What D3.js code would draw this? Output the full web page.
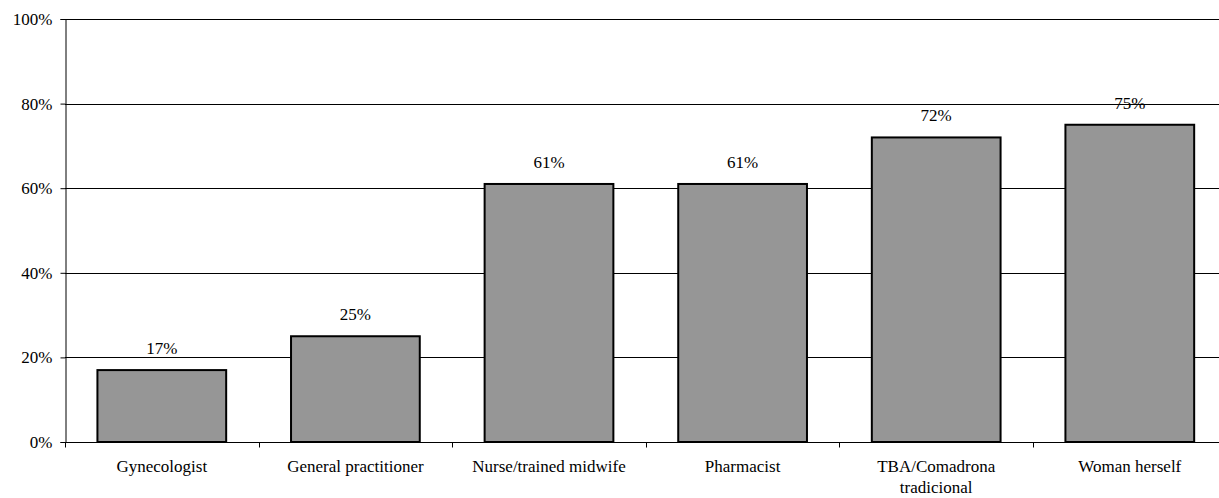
<!DOCTYPE html>
<html>
<head>
<meta charset="utf-8">
<script src="https://cdn.jsdelivr.net/npm/d3@7"></script>
<style>
  html, body { margin: 0; padding: 0; background: #fff; }
  svg { display: block; }
</style>
</head>
<body>
<svg id="chart" width="1219" height="498"></svg>
<script>
// Who can provide the service (share of respondents)
const categories = [
  ["Gynecologist"],
  ["General practitioner"],
  ["Nurse/trained midwife"],
  ["Pharmacist"],
  ["TBA/Comadrona", "tradicional"],
  ["Woman herself"]
];
const values = [17, 25, 61, 61, 72, 75];
const yTicks = [0, 20, 40, 60, 80, 100];

const FONT = "Liberation Serif";
const FS = "17px";

const svg = d3.select("#chart");
const margin = { left: 65, top: 19, bottom: 56 };
const bandW = 193.6;
const innerH = 498 - margin.top - margin.bottom;

const x = d3.scaleBand()
  .domain(d3.range(categories.length))
  .range([margin.left, margin.left + bandW * categories.length])
  .paddingInner(0.335)
  .paddingOuter(0.1675);

const y = d3.scaleLinear().domain([0, 100]).range([margin.top + innerH, margin.top]);

// horizontal gridlines
svg.append("g")
  .selectAll("line")
  .data(yTicks.filter(d => d > 0))
  .join("line")
  .attr("x1", margin.left).attr("x2", 1219)
  .attr("y1", d => Math.round(y(d)) + 0.5).attr("y2", d => Math.round(y(d)) + 0.5)
  .attr("stroke", "#000").attr("stroke-width", 1);

// bars
svg.append("g")
  .selectAll("rect")
  .data(values)
  .join("rect")
  .attr("x", (d, i) => x(i))
  .attr("y", d => y(d))
  .attr("width", x.bandwidth())
  .attr("height", d => y(0) - y(d))
  .attr("fill", "#969696")
  .attr("stroke", "#000")
  .attr("stroke-width", 2);

// value labels
svg.append("g")
  .selectAll("text")
  .data(values)
  .join("text")
  .attr("x", (d, i) => x(i) + x.bandwidth() / 2)
  .attr("y", d => y(d) - 16)
  .attr("text-anchor", "middle")
  .style("font-family", FONT)
  .style("font-size", FS)
  .attr("fill", "#000")
  .text(d => d + "%");

// y axis
const yAxis = d3.axisLeft(y)
  .tickValues(yTicks)
  .tickFormat(d => d + "%")
  .tickSize(5)
  .tickPadding(8);
const gy = svg.append("g")
  .attr("transform", `translate(${margin.left + 0.5},0)`)
  .call(yAxis);
gy.select(".domain").attr("stroke", "#000");
gy.selectAll(".tick line").attr("stroke", "#000");
gy.selectAll(".tick text")
  .attr("fill", "#000")
  .style("font-family", FONT)
  .style("font-size", FS);

// x axis baseline with boundary ticks
const baseY = Math.round(y(0)) + 0.5;
svg.append("line")
  .attr("x1", margin.left).attr("x2", 1219)
  .attr("y1", baseY).attr("y2", baseY)
  .attr("stroke", "#000");
svg.append("g")
  .selectAll("line")
  .data(d3.range(categories.length + 1))
  .join("line")
  .attr("x1", i => Math.round(margin.left + i * bandW) + 0.5)
  .attr("x2", i => Math.round(margin.left + i * bandW) + 0.5)
  .attr("y1", baseY).attr("y2", baseY + 5)
  .attr("stroke", "#000");

// category labels
const cat = svg.append("g")
  .selectAll("text")
  .data(categories)
  .join("text")
  .attr("x", (d, i) => x(i) + x.bandwidth() / 2)
  .attr("y", 472)
  .attr("text-anchor", "middle")
  .attr("fill", "#000")
  .style("font-family", FONT)
  .style("font-size", FS);
cat.selectAll("tspan")
  .data(d => d)
  .join("tspan")
  .attr("x", function () { return d3.select(this.parentNode).attr("x"); })
  .attr("dy", (d, i) => i === 0 ? 0 : 21)
  .text(d => d);
</script>
</body>
</html>
